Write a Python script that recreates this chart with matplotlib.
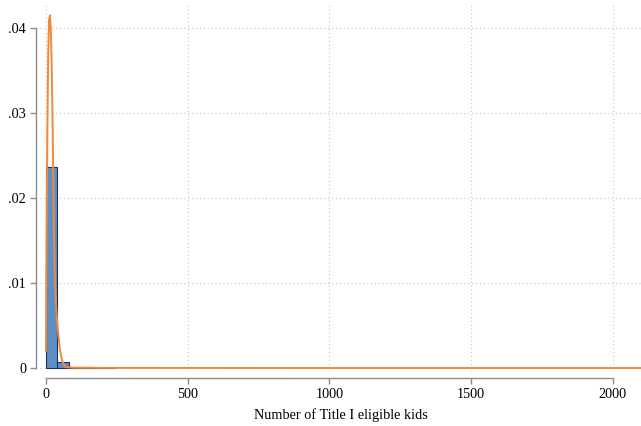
import numpy as np
import matplotlib
matplotlib.use("Agg")
from matplotlib import pyplot as plt

# histogram of eligible kids (density scale), bin width ~40.4
bin_width = 2100 / 52
bar_heights = [0.0236, 0.0007, 0.00012, 0.00006, 0.00003, 0.00002]

# kernel density estimate, read at selected points
kde_x = [0, 1, 2, 3.5, 5, 8, 11, 14, 17, 20, 23, 26, 28, 31, 35, 42, 49, 56, 63, 70, 100, 250, 1000, 2100]
kde_y = [0.002, 0.009, 0.015, 0.021, 0.028, 0.037, 0.041, 0.0415, 0.040, 0.036, 0.030, 0.022,
         0.016, 0.011, 0.0075, 0.0045, 0.0022, 0.001, 0.0004, 0.0001, 0.00003, 0.00001, 0.0, 0.0]

x_ticks = [0, 500, 1000, 1500, 2000]
y_ticks = [0, 0.01, 0.02, 0.03, 0.04]
y_labels = ["0", ".01", ".02", ".03", ".04"]

plt.rcParams["font.family"] = "Liberation Serif"

fig = plt.figure(figsize=(6.41, 4.26), dpi=100)
ax = fig.add_axes([40 / 641, 54 / 426, 601 / 641, 367 / 426])

# gridlines first so marks sit on top
for xt in x_ticks:
    ax.axvline(xt, color="#c8c8c8", lw=0.8, ls=(0, (1, 2.5)), zorder=0)
for yt in y_ticks:
    ax.axhline(yt, color="#c8c8c8", lw=0.8, ls=(0, (1, 2.5)), zorder=0)

left_edges = np.arange(len(bar_heights)) * bin_width
ax.bar(left_edges, bar_heights, width=bin_width, align="edge",
       color="#5b8fc5", edgecolor="#1c3550", linewidth=0.8, zorder=2)

ax.plot(kde_x, kde_y, color="#f08a3a", lw=1.4, zorder=3)

ax.set_xlim(-21, 2099)
ax.set_ylim(-0.00047, 0.0427)

for s in ["top", "right"]:
    ax.spines[s].set_visible(False)
ax.spines["left"].set_position(("outward", 3))
ax.spines["left"].set_bounds(0, 0.04)
ax.spines["bottom"].set_position(("outward", 4.5))
ax.spines["bottom"].set_bounds(0, 2000)
for s in ["left", "bottom"]:
    ax.spines[s].set_color("#8c8c8c")
    ax.spines[s].set_linewidth(1.0)

ax.set_xticks(x_ticks)
ax.set_xticklabels([str(t) for t in x_ticks])
ax.set_yticks(y_ticks)
ax.set_yticklabels(y_labels)
ax.tick_params(axis="both", direction="out", length=4, width=1.0, color="#8c8c8c",
               labelsize=10.3, labelcolor="black", pad=3)

ax.set_xlabel("Number of Title I eligible kids", fontsize=10.3, labelpad=5)

fig.savefig("out.png", dpi=100)
